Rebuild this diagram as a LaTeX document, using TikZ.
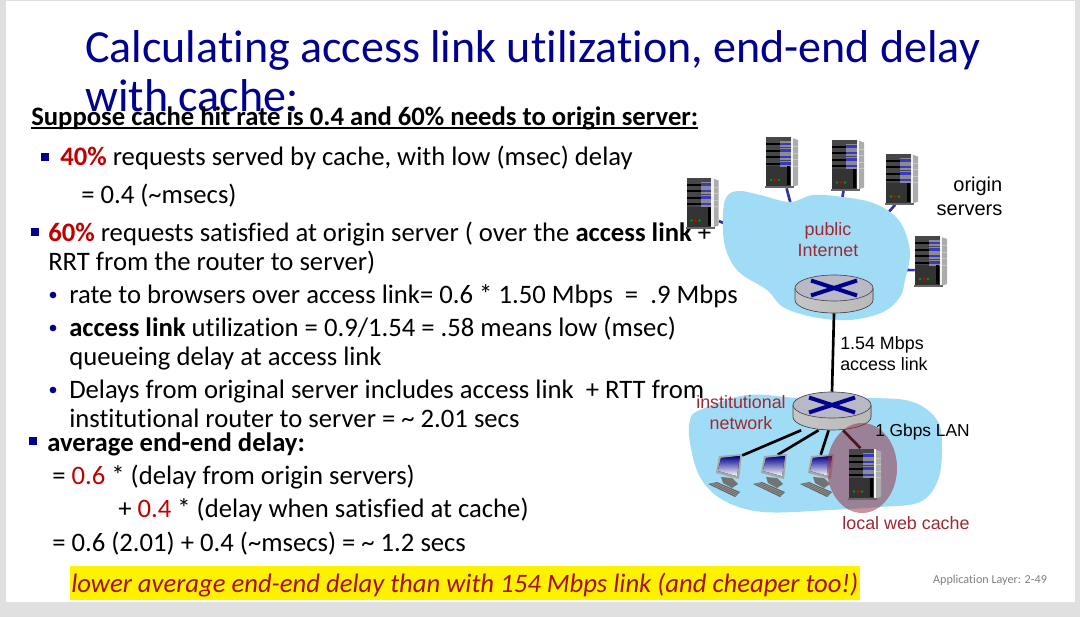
\documentclass[tikz,border=0pt]{standalone}
\usepackage{fontspec}
\setmainfont{Carlito}[Ligatures=NoCommon]
\newfontfamily\arialfont{Liberation Sans}
\usetikzlibrary{arrows.meta, positioning}
\definecolor{titleblue}{RGB}{0,0,145}
\definecolor{bulletblue}{RGB}{0,0,140}
\definecolor{keyred}{RGB}{192,0,0}
\definecolor{lowerred}{RGB}{170,15,15}
\definecolor{labelred}{RGB}{160,40,50}
\definecolor{cacherose}{RGB}{150,40,60}
\definecolor{cloudblue}{RGB}{160,220,245}
\definecolor{linkblue}{RGB}{50,50,165}
\definecolor{framegray}{RGB}{224,224,224}

\begin{document}
\begin{tikzpicture}
    %defining some styles
    [
        x=0.75pt, y=-0.75pt,
        txt/.style={anchor=base west, inner sep=0pt, font=\fontsize{20pt}{22pt}\selectfont},
        lbl/.style={inner sep=0pt, align=center, font=\arialfont\fontsize{13.4pt}{15.6pt}\selectfont},
        square/.style={rectangle, fill=bulletblue, inner sep=0pt, minimum size=5.4pt},
        dot/.style={circle, fill=bulletblue, inner sep=0pt, minimum size=5pt},
        serverbox/.style={rectangle, inner sep=0pt, minimum width=24pt, minimum height=38.25pt},
        routerbox/.style={rectangle, inner sep=0pt, minimum width=58.5pt, minimum height=28.5pt},
        pcbox/.style={rectangle, inner sep=0pt, minimum width=25.5pt, minimum height=31.5pt},
        lan/.style={black, line width=2pt},
        wan/.style={linkblue, line width=2pt},
        server/.pic={
            \begin{scope}[shift={(-16,-25.5)}]
                \fill[gray!65] (26,1) -- (32,3) -- (32,48) -- (26,50) -- cycle;
                \fill[black!72] (0,0) rectangle (26,50);
                \fill[black!80] (0,29) rectangle (26,50);
                \fill[white!90!gray] (24.5,0) rectangle (27,50);
                \foreach \s in {7,13.5,20,26.5} {
                    \fill[black] (0,\s-1) rectangle (14,\s+1);
                    \fill[black!45] (14,\s-3) rectangle (24.5,\s+3);
                    \fill[blue!55!gray] (14,\s-1.3) rectangle (24.5,\s+1.3);
                    \fill[gray!45] (27,\s+2) rectangle (32,\s+3);
                }
                \fill[black] (21,29) rectangle (24,48);
                \fill[green!60!black] (5,43) circle (1.4);
                \fill[red!80!black] (9,43) circle (1.6);
                \fill[green!60!black] (13,43) circle (1.4);
                \fill[black!60] (-1,49) rectangle (28,51);
            \end{scope}
        },
        router/.pic={
            \fill[left color=gray!45, middle color=white, right color=gray!55]
                (-39,-6) -- (-39,6) arc[start angle=180, end angle=0, x radius=39, y radius=13] -- (39,-6) -- cycle;
            \draw[black!70, line width=0.5pt]
                (-39,-6) -- (-39,6) arc[start angle=180, end angle=0, x radius=39, y radius=13] -- (39,-6);
            \fill[blue!12!gray!50] (0,-6) ellipse [x radius=39, y radius=13];
            \draw[black!70, line width=0.5pt] (0,-6) ellipse [x radius=39, y radius=13];
            \foreach \sx in {-1,1} \foreach \sy in {-1,1} {
                \draw[blue!55!black, line width=3pt] (0,-6) -- ++(\sx*23,\sy*7.5);
            }
        },
        computer/.pic={
            \begin{scope}[shift={(-17,-21)}]
                \fill[black!55] (13,22) -- (24,23) -- (30,29) -- (24,33) -- (15,28) -- cycle;
                \fill[gray!70] (11,1) -- (34,-1) -- (31,24) -- (8,18) -- cycle;
                \fill[top color=blue!55!black, bottom color=white] (13,3) -- (32,1) -- (29,21) -- (10,16) -- cycle;
                \fill[black!60] (0,29) -- (9,27) -- (32,37) -- (27,42) -- cycle;
                \foreach \k in {0.25,0.5,0.75} {
                    \draw[gray!70, line width=0.3pt] (0+\k*9,29-\k*2) -- (27+\k*5,42-\k*5);
                }
            \end{scope}
        }
    ]
    %page
    \fill[framegray] (0,0) rectangle (1080,617);
    \fill[white] (6,1) rectangle (1075,602);
    \useasboundingbox (0,0) rectangle (1080,617);

    %title and text
    \node (title1) at (85,63) [txt, text=titleblue, font=\fontsize{34.5pt}{36pt}\selectfont] {Calculating access link utilization, end-end delay};
    \node (title2) at (85,111) [txt, text=titleblue, font=\fontsize{34.5pt}{36pt}\selectfont] {with cache:};
    \node (head) at (31,125) [txt] {\textbf{Suppose cache hit rate is 0.4 and 60\% needs to origin server:}};
    \draw[line width=1pt] ([yshift=-2.2pt]head.base west) -- ([yshift=-2.2pt]head.base east);

    \node (b40) at (45,157) [square] {};
    \node (t40) at (60,165) [txt] {\textcolor{keyred}{\textbf{40\%}} requests served by cache, with low (msec) delay};
    \node (t40b) at (81,203) [txt] {= 0.4 (\textasciitilde msecs)};
    \node (b60) at (35,232) [square] {};
    \node (t60) at (48,241) [txt] {\textcolor{keyred}{\textbf{60\%}} requests satisfied at origin server ( over the \textbf{access link} +};
    \node (t60b) at (48,270) [txt] {RRT from the router to server)};
    \node (d1) at (53,295) [dot] {};
    \node (rate) at (69,303) [txt] {rate to browsers over access link= 0.6 * 1.50 Mbps \ = \ .9 Mbps};
    \node (d2) at (53,328) [dot] {};
    \node (util) at (69,336) [txt] {\textbf{access link} utilization = 0.9/1.54 = .58 means low (msec)};
    \node (utilb) at (69,365) [txt] {queueing delay at access link};
    \node (d3) at (53,390) [dot] {};
    \node (orig) at (69,398) [txt] {Delays from original server includes access link \ + RTT from};
    \node (origb) at (69,427) [txt] {institutional router to server = \textasciitilde\ 2.01 secs};
    \node (b3) at (33,441) [square] {};
    \node (avg) at (47,451) [txt] {\textbf{average end-end delay:}};
    \node (avg1) at (52,484) [txt] {= \textcolor{keyred}{0.6} * (delay from origin servers)};
    \node (avg2) at (118,517) [txt] {+ \textcolor{keyred}{0.4} * (delay when satisfied at cache)};
    \node (avg3) at (52,551) [txt] {= 0.6 (2.01) + 0.4 (\textasciitilde msecs) = \textasciitilde\ 1.2 secs};

    \fill[yellow] (70,566) rectangle (860,600);
    \node (lower) at (71,592) [txt, text=lowerred] {\itshape lower average end-end delay than with 154 Mbps link (and cheaper too!)};
    \node (foot) at (990,580) [inner sep=0pt, text=gray, font=\fontsize{9.1pt}{10pt}\selectfont] {Application Layer: 2-49};

    %boxes that the connectors start from
    \node (srvA) at (702.5,203) [serverbox] {};
    \node (srvB) at (782,162.5) [serverbox] {};
    \node (srvC) at (848,165) [serverbox] {};
    \node (srvD) at (902,179) [serverbox] {};
    \node (srvE) at (931,261.5) [serverbox] {};
    \node (cache) at (865,474) [serverbox] {};
    \node (pubrouter) at (834,294) [routerbox] {};
    \node (lanrouter) at (832,411) [routerbox] {};
    \node (pcA) at (725,476) [pcbox] {};
    \node (pcB) at (770,476) [pcbox] {};
    \node (pcC) at (817,476) [pcbox] {};

    \coordinate (inA) at (726,224);
    \coordinate (inB) at (791,205);
    \coordinate (inC) at (842,200);
    \coordinate (inD) at (887,214);
    \coordinate (inE) at (903,270);

    \draw[wan] (srvA.-48) -- (inA);
    \draw[wan] (srvB.-80) -- (inB);
    \draw[wan] (srvC.-100) -- (inC);
    \draw[wan] (srvD.-105) -- (inD);
    \draw[wan] (srvE.-152) -- (inE);

    %clouds
    \fill[cloudblue] plot[smooth cycle, tension=0.6] coordinates {(725,200) (737,191) (760,195) (790,202) (813,195) (843,197) (870,202) (890,212) (903,227) (910,253) (905,280) (900,297) (883,312) (850,320) (813,317) (783,307) (767,290) (740,273) (727,253) (723,230)};
    \fill[cloudblue] plot[smooth cycle, tension=0.6] coordinates {(690,420) (700,410) (747,395) (800,398) (873,398) (913,402) (937,420) (942,447) (938,480) (920,502) (880,507) (830,510) (763,512) (723,500) (700,477) (690,443)};

    %connectors
    \draw[lan] (pubrouter.south) -- (lanrouter.north);
    \draw[lan] (lanrouter.-148) -- (pcA.50);
    \draw[lan] (lanrouter.-125) -- (pcB.70);
    \draw[lan] (lanrouter.-100) -- (pcC.80);
    \draw[lan] (lanrouter.-60) -- (cache.100);

    %icons
    \foreach \n in {srvA,srvB,srvC,srvD,srvE} \pic at (\n) {server};
    \pic at (pubrouter) {router};
    \pic at (lanrouter) {router};
    \foreach \n in {pcA,pcB,pcC} \pic at (\n) {computer};

    \fill[cacherose, opacity=0.5] (862,468) ellipse [x radius=35, y radius=45];
    \pic at (cache) {server};

    %labels
    \node (lblorigin) at (969.5,196) [lbl, align=right, font=\arialfont\fontsize{15pt}{18pt}\selectfont] {origin\\ servers};
    \node (lblpublic) at (828,240) [lbl, text=labelred] {public\\ Internet};
    \node (lblaccess) at (840,354) [lbl, anchor=west, align=left] {1.54 Mbps\\ access link};
    \node (lblinst) at (741,413) [lbl, text=labelred] {institutional\\ network};
    \node (lblgbps) at (875,432) [lbl, anchor=west, font=\arialfont\fontsize{13pt}{15.6pt}\selectfont] {1 Gbps LAN};
    \node (lblcache) at (906,523) [lbl, text=labelred] {local web cache};
\end{tikzpicture}
\end{document}
